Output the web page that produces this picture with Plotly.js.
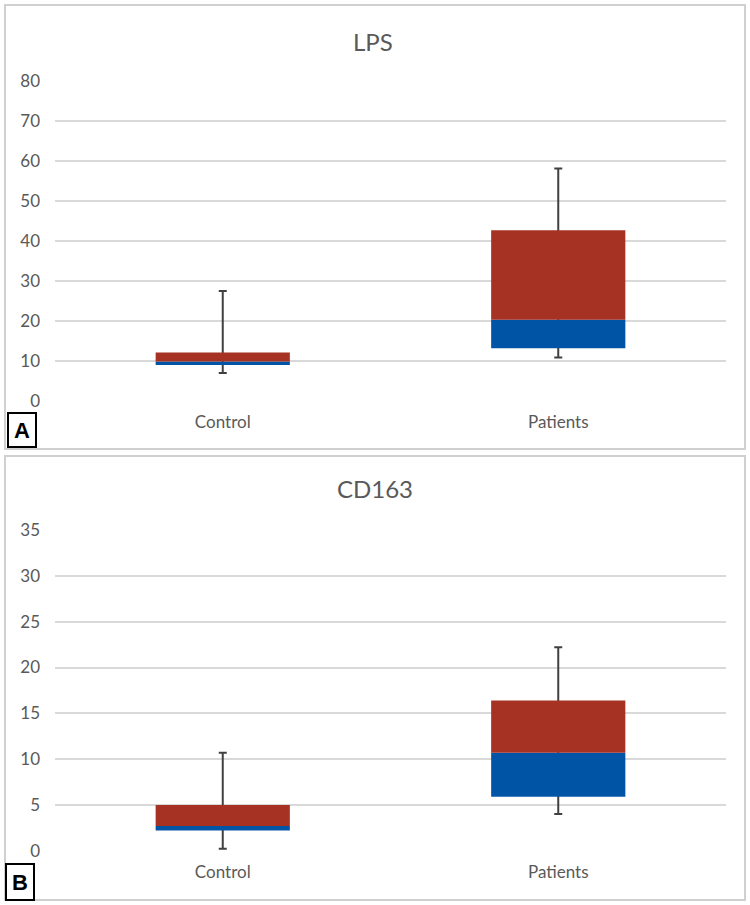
<!DOCTYPE html>
<html>
<head>
<meta charset="utf-8">
<script src="https://cdn.plot.ly/plotly-3.0.1.min.js"></script>
<style>html,body{margin:0;padding:0;background:#fff;}#chart{width:750px;height:905px;}</style>
</head>
<body>
<div id="chart"></div>
<script>
// Categories
var categories = ["Control", "Patients"];

// Panel A: LPS (five-number summaries)
var lpsMin    = [7.0, 10.9];
var lpsQ1     = [9.0, 13.2];
var lpsMedian = [9.9, 20.3];
var lpsQ3     = [12.1, 42.7];
var lpsMax    = [27.5, 58.1];

// Panel B: CD163
var cdMin    = [0.2, 4.0];
var cdQ1     = [2.2, 5.9];
var cdMedian = [2.7, 10.7];
var cdQ3     = [5.0, 16.4];
var cdMax    = [10.7, 22.2];

var yTicksA = [0, 10, 20, 30, 40, 50, 60, 70, 80];
var yTicksB = [0, 5, 10, 15, 20, 25, 30, 35];

var BLUE = "#0054A6";
var RED = "#A63224";
var WHISK = "#404040";

function diff(a, b) { return a.map(function (v, i) { return v - b[i]; }); }
function zeros(a) { return a.map(function () { return 0; }); }

function panelTraces(mins, q1, med, q3, maxs, xa, ya) {
  return [
    // whisker carrier (transparent bar spanning min..max, error bar from max down to min)
    {
      type: "bar", x: categories, base: mins, y: diff(maxs, mins),
      xaxis: xa, yaxis: ya,
      marker: { color: "rgba(0,0,0,0)", line: { width: 0 } },
      error_y: { type: "data", symmetric: false, array: zeros(maxs), arrayminus: diff(maxs, mins),
                 color: WHISK, thickness: 2, width: 4 },
      hoverinfo: "skip", showlegend: false
    },
    // lower box: Q1..median
    {
      type: "bar", x: categories, base: q1, y: diff(med, q1),
      xaxis: xa, yaxis: ya,
      marker: { color: BLUE, line: { width: 0 } },
      hoverinfo: "skip", showlegend: false
    },
    // upper box: median..Q3
    {
      type: "bar", x: categories, base: med, y: diff(q3, med),
      xaxis: xa, yaxis: ya,
      marker: { color: RED, line: { width: 0 } },
      hoverinfo: "skip", showlegend: false
    }
  ];
}

var data = [].concat(
  panelTraces(lpsMin, lpsQ1, lpsMedian, lpsQ3, lpsMax, "x", "y"),
  panelTraces(cdMin, cdQ1, cdMedian, cdQ3, cdMax, "x2", "y2")
);

var W = 750, H = 905;
function px(x) { return x / W; }
function py(y) { return 1 - y / H; }

var FONT = "Lato, 'Open Sans', sans-serif";
var GRAY = "#595959";

function xAxis(anchor) {
  return {
    domain: [px(55), px(726)], anchor: anchor, type: "category",
    range: [-0.5, 1.5], showgrid: false, zeroline: false, showline: false,
    ticks: "", ticklabelstandoff: 9,
    tickfont: { family: FONT, size: 17, color: GRAY }, fixedrange: true
  };
}
function yAxis(anchor, dom, rng, dtick) {
  return {
    domain: dom, anchor: anchor, range: rng, tickmode: "linear", tick0: 0, dtick: dtick,
    showgrid: true, gridcolor: "#D9D9D9", gridwidth: 2, zeroline: false, showline: false,
    ticks: "", ticklabelstandoff: 14,
    tickfont: { family: FONT, size: 17, color: GRAY }, fixedrange: true
  };
}

var layout = {
  width: W, height: H,
  margin: { l: 0, r: 0, t: 0, b: 0, pad: 0 },
  paper_bgcolor: "#ffffff", plot_bgcolor: "rgba(0,0,0,0)",
  barmode: "overlay", bargap: 0.6,
  showlegend: false,
  xaxis: xAxis("y"),
  yaxis: yAxis("x", [py(401), py(81)], [0, 80], yTicksA[1] - yTicksA[0]),
  xaxis2: xAxis("y2"),
  yaxis2: yAxis("x2", [py(850.7), py(530.1)], [0, 35], yTicksB[1] - yTicksB[0]),
  shapes: [
    { type: "rect", xref: "paper", yref: "paper", x0: px(5), x1: px(745), y0: py(449), y1: py(5),
      line: { color: "#D0D0D0", width: 2 }, layer: "below" },
    { type: "rect", xref: "paper", yref: "paper", x0: px(5), x1: px(745), y0: py(900), y1: py(456),
      line: { color: "#D0D0D0", width: 2 }, layer: "below" }
  ],
  annotations: [
    { text: "LPS", xref: "paper", yref: "paper", x: px(373), y: py(41), showarrow: false,
      xanchor: "center", yanchor: "middle", font: { family: FONT, size: 24, color: GRAY } },
    { text: "CD163", xref: "paper", yref: "paper", x: px(375), y: py(488), showarrow: false,
      xanchor: "center", yanchor: "middle", font: { family: FONT, size: 24, color: GRAY } },
    { text: "<b>A</b>", xref: "paper", yref: "paper", x: px(22), y: py(430), showarrow: false,
      xanchor: "center", yanchor: "middle", width: 26, height: 32,
      bordercolor: "#000000", borderwidth: 2, borderpad: 0, bgcolor: "#ffffff",
      font: { family: "Arial, 'Liberation Sans', sans-serif", size: 22, color: "#000000" } },
    { text: "<b>B</b>", xref: "paper", yref: "paper", x: px(20), y: py(882), showarrow: false,
      xanchor: "center", yanchor: "middle", width: 26, height: 34,
      bordercolor: "#000000", borderwidth: 2, borderpad: 0, bgcolor: "#ffffff",
      font: { family: "Arial, 'Liberation Sans', sans-serif", size: 22, color: "#000000" } }
  ]
};

Plotly.newPlot("chart", data, layout, { staticPlot: true, displayModeBar: false });
</script>
</body>
</html>
